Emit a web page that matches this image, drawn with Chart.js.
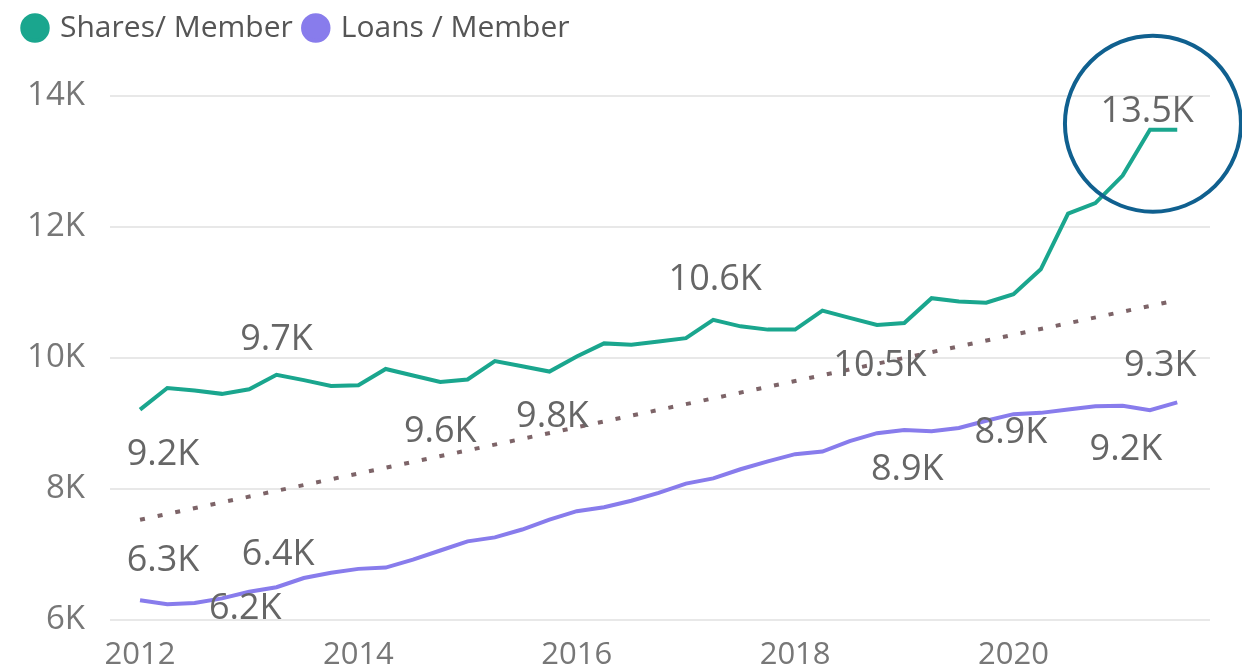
<!DOCTYPE html>
<html>
<head>
<meta charset="utf-8">
<script src="https://cdn.jsdelivr.net/npm/chart.js@4/dist/chart.umd.min.js"></script>
<style>
  html, body { margin: 0; padding: 0; background: #fff; }
  #wrap { width: 1242px; height: 671px; }
</style>
</head>
<body>
<div id="wrap"><canvas id="chart" width="1242" height="671"></canvas></div>
<script>
// quarterly periods, 2012 Q1 .. 2021 Q3
var QUARTERS = [
  '2012 Q1', '2012 Q2', '2012 Q3', '2012 Q4',
  '2013 Q1', '2013 Q2', '2013 Q3', '2013 Q4',
  '2014 Q1', '2014 Q2', '2014 Q3', '2014 Q4',
  '2015 Q1', '2015 Q2', '2015 Q3', '2015 Q4',
  '2016 Q1', '2016 Q2', '2016 Q3', '2016 Q4',
  '2017 Q1', '2017 Q2', '2017 Q3', '2017 Q4',
  '2018 Q1', '2018 Q2', '2018 Q3', '2018 Q4',
  '2019 Q1', '2019 Q2', '2019 Q3', '2019 Q4',
  '2020 Q1', '2020 Q2', '2020 Q3', '2020 Q4',
  '2021 Q1', '2021 Q2', '2021 Q3'
];

var SHARES = [
  9210, 9540, 9500, 9450, 9520, 9740, 9660, 9570,
  9580, 9830, 9730, 9630, 9670, 9950, 9870, 9790,
  10020, 10220, 10200, 10250, 10300, 10580, 10480, 10430,
  10430, 10720, 10610, 10500, 10530, 10910, 10860, 10840,
  10970, 11350, 12200, 12360, 12780, 13480, 13480
];

var LOANS = [
  6300, 6240, 6260, 6330, 6430, 6500, 6640, 6720,
  6780, 6800, 6920, 7060, 7200, 7260, 7380, 7530,
  7660, 7720, 7820, 7940, 8080, 8160, 8300, 8420,
  8530, 8570, 8730, 8850, 8900, 8880, 8930, 9040,
  9140, 9160, 9210, 9260, 9270, 9200, 9320
];

// combined trend line end points
var TREND_X = [2012, 2021.5];
var TREND_Y = [7530, 10880];

var X_TICKS = [2012, 2014, 2016, 2018, 2020];
var Y_TICKS = [6000, 8000, 10000, 12000, 14000];

// which points carry a value label: [dataset, index, dx, dy]
var LABELS = [
  [0, 0, 23, 45], [0, 5, 0, -35], [0, 11, 0, 50], [0, 15, 3, 45],
  [0, 21, 2, -40], [0, 27, 3, 41], [0, 38, -30, -18],
  [1, 0, 23, -40], [1, 4, 29, -37], [1, 1, 78, 4], [1, 28, 3, 40],
  [1, 30, 52, 5], [1, 37, -24, 40], [1, 38, -17, -37]
];

var TEAL = '#1aa68e';
var PURPLE = '#887cec';
var TREND = '#7d6468';

function quarterToYear(q) {
  var parts = q.split(' Q');
  return Number(parts[0]) + (Number(parts[1]) - 1) / 4;
}

function toPoints(values) {
  return values.map(function(v, i) { return { x: quarterToYear(QUARTERS[i]), y: v }; });
}

function fmtK(v) {
  return (v / 1000).toFixed(1) + 'K';
}

var valueLabels = {
  id: 'valueLabels',
  afterDatasetsDraw: function(chart) {
    var ctx = chart.ctx;
    ctx.save();
    ctx.font = '36px "Open Sans", sans-serif';
    ctx.fillStyle = '#666';
    ctx.textAlign = 'center';
    ctx.textBaseline = 'middle';
    LABELS.forEach(function(l) {
      var el = chart.getDatasetMeta(l[0]).data[l[1]];
      var v = chart.data.datasets[l[0]].data[l[1]].y;
      ctx.fillText(fmtK(v), el.x + l[2], el.y + l[3]);
    });

    // highlight ring round the latest shares value
    var xs = chart.scales.x, ys = chart.scales.y;
    var last = SHARES.length - 2;
    var cx = xs.getPixelForValue(quarterToYear(QUARTERS[last])) + 3;
    var cy = ys.getPixelForValue(SHARES[last]) - 6;
    ctx.beginPath();
    ctx.arc(cx, cy, 88, 0, Math.PI * 2);
    ctx.lineWidth = 4;
    ctx.strokeStyle = '#10608f';
    ctx.stroke();
    ctx.restore();
  }
};

new Chart(document.getElementById('chart'), {
  type: 'line',
  data: {
    datasets: [
      {
        label: 'Shares/ Member',
        data: toPoints(SHARES),
        borderColor: TEAL,
        backgroundColor: TEAL,
        borderWidth: 4,
        pointRadius: 0,
        tension: 0
      },
      {
        label: 'Loans / Member',
        data: toPoints(LOANS),
        borderColor: PURPLE,
        backgroundColor: PURPLE,
        borderWidth: 4,
        pointRadius: 0,
        tension: 0
      },
      {
        label: 'trend',
        data: TREND_X.map(function(x, i) { return { x: x, y: TREND_Y[i] }; }),
        borderColor: TREND,
        borderWidth: 4,
        borderDash: [5, 13],
        borderCapStyle: 'butt',
        pointRadius: 0
      }
    ]
  },
  options: {
    responsive: false,
    animation: false,
    layout: { padding: { left: 12, right: 32, top: 0, bottom: 0 } },
    plugins: {
      legend: {
        position: 'top',
        align: 'start',
        labels: {
          usePointStyle: true,
          pointStyle: 'circle',
          boxWidth: 20,
          boxHeight: 18,
          padding: 13,
          color: '#555',
          font: { family: '"Open Sans", sans-serif', size: 30 },
          filter: function(item) { return item.text !== 'trend'; }
        }
      },
      tooltip: { enabled: false }
    },
    scales: {
      x: {
        type: 'linear',
        min: 2011.725,
        max: 2021.8,
        grid: { display: false, drawTicks: false },
        border: { display: false },
        afterBuildTicks: function(scale) {
          scale.ticks = X_TICKS.map(function(v) { return { value: v }; });
        },
        afterFit: function(scale) { scale.height = 51; },
        ticks: {
          padding: 17,
          maxRotation: 0,
          autoSkip: false,
          color: '#777',
          font: { family: '"Open Sans", sans-serif', size: 31 },
          callback: function(v) { return String(v); }
        }
      },
      y: {
        min: 6000,
        max: 14650,
        grid: { color: '#e8e8e8', lineWidth: 2, drawTicks: false },
        border: { display: false },
        afterBuildTicks: function(scale) {
          scale.ticks = Y_TICKS.map(function(v) { return { value: v }; });
        },
        afterFit: function(scale) { scale.width = 98; },
        ticks: {
          padding: 25,
          color: '#777',
          font: { family: '"Open Sans", sans-serif', size: 33 },
          callback: function(v) { return (v / 1000) + 'K'; }
        }
      }
    }
  },
  plugins: [valueLabels]
});
</script>
</body>
</html>
